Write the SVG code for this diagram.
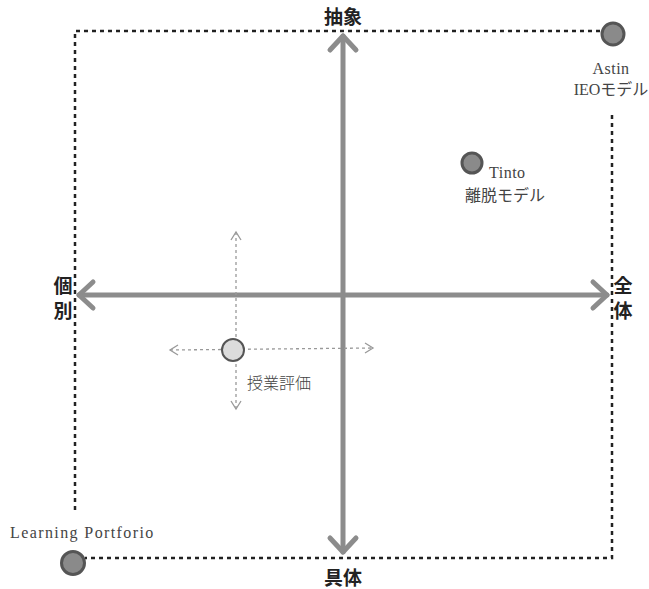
<svg xmlns="http://www.w3.org/2000/svg" width="649" height="589" viewBox="0 0 649 589">
  <style>
    .frame { fill: none; stroke: #222; stroke-width: 2.5; stroke-dasharray: 4 4; }
    .axis { fill: none; stroke: #8c8c8c; stroke-width: 5; stroke-linecap: round; stroke-linejoin: round; }
    .sub { fill: none; stroke: #999; stroke-width: 1.3; stroke-dasharray: 3 3; }
    .subhead { fill: none; stroke: #999; stroke-width: 1.3; }
    .pole { font-family: "Noto Sans CJK JP", "Noto Sans", sans-serif; font-weight: bold; font-size: 19px; fill: #222; text-anchor: middle; }
    .lbl { font-family: "Liberation Serif", "Noto Sans CJK JP", serif; font-size: 16px; fill: #444; }
    .jlbl { font-family: "Noto Sans CJK JP", sans-serif; font-size: 16px; font-weight: 300; fill: #444; }
    .model { fill: #8a8a8a; stroke: #555; stroke-width: 3; }
    .course { fill: #dcdcdc; stroke: #555; stroke-width: 2; }
  </style>

  <!-- dotted frame -->
  <g id="frame">
    <path class="frame" d="M75,510 V31 H600"/>
    <path class="frame" d="M612,115 V558 H85"/>
  </g>

  <!-- axes and sub-axes -->
  <g id="connectors">
    <line class="axis" x1="343" y1="36" x2="343" y2="552"/>
    <polyline class="axis" points="330,50 343,36 356,50"/>
    <polyline class="axis" points="330,538 343,552 356,538"/>
    <line class="axis" x1="79" y1="295" x2="607" y2="295"/>
    <polyline class="axis" points="93,282 79,295 93,308"/>
    <polyline class="axis" points="593,282 607,295 593,308"/>

    <line class="sub" x1="236" y1="232" x2="236" y2="409"/>
    <polyline class="subhead" points="231,240 236,232 241,240"/>
    <polyline class="subhead" points="231,401 236,409 241,401"/>
    <line class="sub" x1="170" y1="350" x2="373" y2="348"/>
    <polyline class="subhead" points="178,345 170,350 178,355"/>
    <polyline class="subhead" points="365,343 373,348 365,353"/>
  </g>

  <!-- pole labels -->
  <g id="pole-abstract"><text class="pole" x="343" y="24">抽象</text></g>
  <g id="pole-concrete"><text class="pole" x="343" y="585">具体</text></g>
  <g id="pole-individual">
    <text class="pole" x="63" y="293">個</text>
    <text class="pole" x="63" y="318">別</text>
  </g>
  <g id="pole-whole">
    <text class="pole" x="623" y="293">全</text>
    <text class="pole" x="623" y="318">体</text>
  </g>

  <!-- models -->
  <g id="node-astin">
    <circle class="model" cx="613" cy="34" r="11"/>
    <text class="lbl" x="611" y="74" text-anchor="middle" letter-spacing="0.5">Astin</text>
    <text class="lbl" x="611" y="95" text-anchor="middle">IEOモデル</text>
  </g>
  <g id="node-tinto">
    <circle class="model" cx="472" cy="163" r="10"/>
    <text class="lbl" x="489" y="178" letter-spacing="0.5">Tinto</text>
    <text class="lbl" x="465" y="201">離脱モデル</text>
  </g>
  <g id="node-portfolio">
    <circle class="model" cx="73" cy="563" r="11.5"/>
    <text class="lbl" x="10" y="538" letter-spacing="1.4">Learning Portforio</text>
  </g>
  <g id="node-course">
    <circle class="course" cx="233" cy="350" r="11"/>
    <text class="jlbl" x="247" y="389">授業評価</text>
  </g>
</svg>
